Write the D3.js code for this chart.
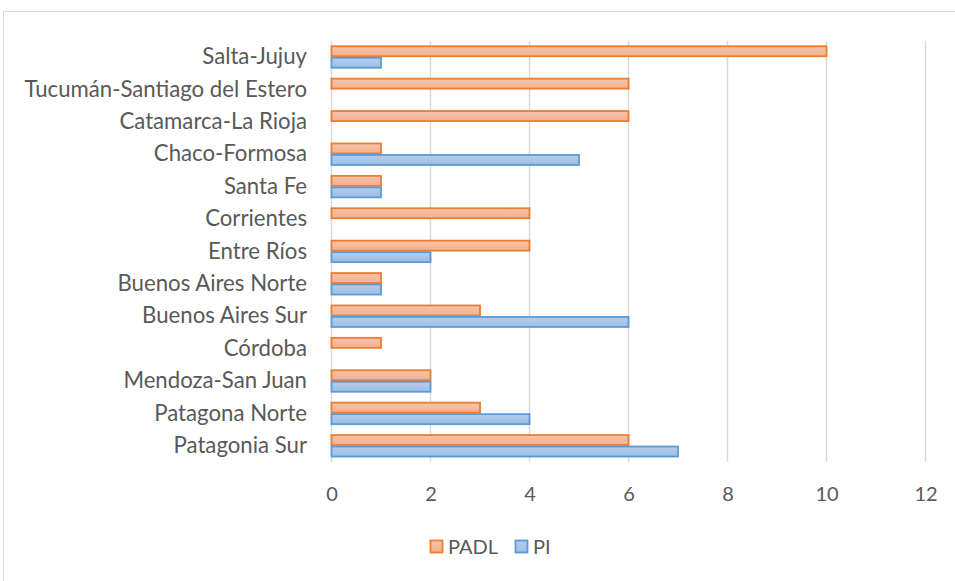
<!DOCTYPE html>
<html>
<head>
<meta charset="utf-8">
<script src="https://cdn.jsdelivr.net/npm/d3@7"></script>
<style>
  html, body { margin: 0; padding: 0; background: #fff; }
  svg { display: block; }
  text { font-family: Lato, "Open Sans", sans-serif; fill: #595959; }
</style>
</head>
<body>
<div id="chart"></div>
<script>
const categories = ["Salta-Jujuy", "Tucumán-Santiago del Estero", "Catamarca-La Rioja", "Chaco-Formosa", "Santa Fe", "Corrientes", "Entre Ríos", "Buenos Aires Norte", "Buenos Aires Sur", "Córdoba", "Mendoza-San Juan", "Patagona Norte", "Patagonia Sur"];
const seriesNames = ["PADL", "PI"];
const padlValues = [10, 6, 6, 1, 1, 4, 4, 1, 3, 1, 2, 3, 6];
const piValues = [1, 0, 0, 5, 1, 0, 2, 1, 6, 0, 2, 4, 7];
const xTicks = [0, 2, 4, 6, 8, 10, 12];

const W = 955, H = 581;
const plot = { left: 331.5, right: 925.5, top: 40.8, bottom: 462 };
const FONT = "Lato, 'Open Sans', sans-serif";
const TEXT_COLOR = "#686868";

const svg = d3.select("#chart").append("svg").attr("width", W).attr("height", H);

const defs = svg.append("defs");
function grad(id, c1, c2) {
  const g = defs.append("linearGradient").attr("id", id).attr("x1", 0).attr("y1", 0).attr("x2", 0).attr("y2", 1);
  g.append("stop").attr("offset", "0%").attr("stop-color", c1);
  g.append("stop").attr("offset", "100%").attr("stop-color", c2);
}
grad("gPADL", "#f9c4aa", "#f4b08f");
grad("gPI", "#b7cdeb", "#9cbde5");

// outer chart border
svg.append("rect").attr("x", 3.5).attr("y", 11.5).attr("width", 1000).attr("height", 700)
  .attr("fill", "none").attr("stroke", "#d9d9d9").attr("stroke-width", 1);

const x = d3.scaleLinear().domain([0, 12]).range([plot.left, plot.right]);
const y = d3.scaleBand().domain(categories).range([plot.top, plot.bottom]).paddingInner(0.29).paddingOuter(0.145);
const ySub = d3.scaleBand().domain(seriesNames).range([0, y.bandwidth()]);

// gridlines
svg.append("g").selectAll("line").data(xTicks).join("line")
  .attr("x1", d => x(d)).attr("x2", d => x(d))
  .attr("y1", plot.top).attr("y2", plot.bottom)
  .attr("stroke", "#d9d9d9").attr("stroke-width", 1.5);

// x axis tick labels
const xAxis = d3.axisBottom(x).tickValues(xTicks).tickSize(0).tickPadding(0);
const xg = svg.append("g").attr("transform", `translate(0, ${plot.bottom + 25})`).call(xAxis);
xg.select(".domain").remove();
xg.selectAll("text").attr("font-size", 20).attr("dy", "0.71em").style("font-family", FONT).attr("fill", TEXT_COLOR);

// y axis labels
const yAxis = d3.axisLeft(y).tickSize(0).tickPadding(0);
const yg = svg.append("g").attr("transform", `translate(${307}, 0)`).call(yAxis);
yg.select(".domain").remove();
yg.selectAll("text").attr("font-size", 22.2).style("font-family", FONT).attr("fill", TEXT_COLOR);

const data = categories.map((c, i) => ({ cat: c, vals: [
  { s: "PADL", v: padlValues[i] }, { s: "PI", v: piValues[i] }] }));

const fills = { PADL: "url(#gPADL)", PI: "url(#gPI)" };
const strokes = { PADL: "#ed7d31", PI: "#5b9bd5" };

const groups = svg.append("g").selectAll("g").data(data).join("g")
  .attr("transform", d => `translate(0, ${y(d.cat)})`);
groups.selectAll("rect").data(d => d.vals.filter(e => e.v > 0)).join("rect")
  .attr("x", x(0))
  .attr("y", d => ySub(d.s) + 0.75)
  .attr("width", d => x(d.v) - x(0))
  .attr("height", ySub.bandwidth() - 1.5)
  .attr("fill", d => fills[d.s])
  .attr("stroke", d => strokes[d.s])
  .attr("stroke-width", 1.8);

// legend
const legendItems = [{ s: "PADL", x: 430 }, { s: "PI", x: 515 }];
const lg = svg.append("g");
const li = lg.selectAll("g").data(legendItems).join("g").attr("transform", d => `translate(${d.x}, 540)`);
li.append("rect").attr("x", 0.5).attr("y", 0.5).attr("width", 12).attr("height", 12)
  .attr("fill", d => fills[d.s]).attr("stroke", d => strokes[d.s]).attr("stroke-width", 1.8);
li.append("text").attr("x", 18).attr("y", 7).attr("dy", "0.35em").attr("font-size", 20)
  .style("font-family", FONT).attr("fill", TEXT_COLOR).text(d => d.s);
</script>
</body>
</html>
